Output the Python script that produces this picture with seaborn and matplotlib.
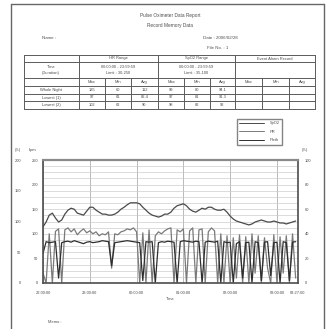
import numpy as np
import pandas as pd
import matplotlib
matplotlib.use("Agg")
import matplotlib.pyplot as plt
import seaborn as sns
from matplotlib.lines import Line2D

# header / table content
title_lines = ["Pulse Oximeter Data Report", "Record Memory Data"]
name_text = "Name :"
date_text = "Date : 2006/02/28"
file_text = "File No. : 1"
group_titles = ["HR Range", "SpO2 Range", "Event Alarm Record"]
group_ranges = [["00:00:00 - 23:59:59", "Limit : 30-250"],
                ["00:00:00 - 23:59:59", "Limit : 35-100"],
                ["", ""]]
stat_cols = ["Max", "Min", "Avg"]
row_labels = ["Whole Night", "Lowest (1)", "Lowest (2)"]
hr_stats = [[185, 60, 112], [97, 61, 82.4], [102, 62, 90]]
spo2_stats = [[99, 80, 94.1], [97, 81, 91.3], [98, 82, 92]]

# chart data, minutes after start (22:00:00)
minutes = list(range(0, 325, 4))
upper = [114, 124, 138, 142, 132, 124, 128, 140, 148, 152,
         150, 142, 140, 138, 146, 154, 154, 148, 144, 140,
         140, 138, 138, 140, 144, 150, 154, 159, 163, 163,
         163, 161, 154, 148, 142, 138, 136, 134, 136, 140,
         140, 144, 152, 157, 159, 161, 157, 150, 146, 144,
         148, 152, 150, 154, 154, 150, 148, 148, 150, 144,
         136, 130, 126, 124, 122, 120, 118, 120, 124, 126,
         128, 126, 124, 124, 126, 124, 122, 122, 120, 122,
         124, 126]
middle = [20, 0, 100, 0, 105, 110, 0, 108, 112, 104,
          110, 98, 105, 110, 102, 106, 100, 104, 96, 100,
          98, 104, 30, 100, 98, 104, 106, 110, 108, 112,
          104, 0, 102, 0, 108, 0, 96, 104, 100, 106,
          110, 112, 0, 108, 104, 110, 0, 106, 112, 0,
          108, 110, 0, 104, 112, 106, 0, 100, 0, 96,
          0, 92, 10, 98, 0, 94, 0, 100, 20, 96,
          0, 92, 30, 0, 98, 0, 94, 20, 96, 0,
          100, 10]
lower = [60, 84, 82, 83, 84, 10, 82, 84, 85, 83,
         86, 84, 82, 80, 83, 84, 82, 83, 84, 86,
         85, 84, 35, 82, 83, 84, 85, 86, 85, 84,
         83, 82, 5, 84, 83, 84, 0, 82, 84, 83,
         85, 84, 83, 0, 84, 86, 85, 84, 83, 85,
         84, 0, 83, 85, 84, 83, 85, 0, 84, 82,
         83, 0, 80, 84, 10, 82, 83, 0, 84, 82,
         5, 83, 84, 15, 82, 83, 0, 84, 82, 5,
         83, 84]
series_names = ["SpO2", "PR", "Pleth"]
series_colors = ["#4a4a4a", "#7a7a7a", "#2e2e2e"]

x_ticks = [0, 60, 120, 180, 240, 300, 327]
x_labels = ["22:00:00", "23:00:00", "00:00:00", "01:00:00",
            "02:00:00", "03:00:00", "03:27:00"]
left_inner_ticks = [0, 50, 100, 150, 200, 250]
left_outer_ticks = [0, 50, 100, 150, 200]
right_ticks = [0, 20, 40, 60, 80, 100]

df = pd.DataFrame({
    "minute": minutes * 3,
    "value": upper + middle + lower,
    "series": [series_names[0]] * len(upper) + [series_names[1]] * len(middle)
              + [series_names[2]] * len(lower),
})

sns.set_theme(style="white")
plt.rcParams["font.family"] = ["Liberation Sans", "DejaVu Sans"]
W, H = 328, 329
fig = plt.figure(figsize=(W / 100, H / 100), dpi=100)
tc = "#4d4d4d"

# page overlay in pixel coordinates
page = fig.add_axes([0, 0, 1, 1])
page.set_xlim(0, W)
page.set_ylim(H, 0)
page.axis("off")
page.plot([11, 11], [4, H], color="#666", lw=1.0)
page.plot([324, 324], [4, H], color="#666", lw=1.0)
page.plot([11, 324], [4, 4], color="#666", lw=1.0)

page.text(170, 15, title_lines[0], ha="center", va="center", fontsize=3.4, color=tc)
page.text(170, 25, title_lines[1], ha="center", va="center", fontsize=3.4, color=tc)
page.text(42, 38, name_text, ha="left", va="center", fontsize=3.2, color=tc)
page.text(203, 38, date_text, ha="left", va="center", fontsize=3.2, color=tc)
page.text(207, 48, file_text, ha="left", va="center", fontsize=3.2, color=tc)

col_edges = [24, 79, 105, 131, 158, 184, 210, 235, 262, 289, 315]
row_edges = [55, 62, 78, 86, 93.7, 101.3, 109]
lc = "#5a5a5a"
for y in row_edges:
    page.plot([col_edges[0], col_edges[-1]], [y, y], color=lc, lw=0.7)
for x in [24, 79, 158, 235, 315]:
    page.plot([x, x], [row_edges[0], row_edges[-1]], color=lc, lw=0.7)
for x in [105, 131, 184, 210, 262, 289]:
    page.plot([x, x], [row_edges[2], row_edges[-1]], color=lc, lw=0.7)

fs = 2.9
group_edges = [(79, 158), (158, 235), (235, 315)]
for (x0, x1), title, rng in zip(group_edges, group_titles, group_ranges):
    cx = (x0 + x1) / 2
    page.text(cx, 58.5, title, ha="center", va="center", fontsize=fs, color=tc)
    page.text(cx, 67, rng[0], ha="center", va="center", fontsize=fs, color=tc)
    page.text(cx, 73, rng[1], ha="center", va="center", fontsize=fs, color=tc)
page.text(51, 67, "Time", ha="center", va="center", fontsize=fs, color=tc)
page.text(51, 73, "(Duration)", ha="center", va="center", fontsize=fs, color=tc)

for i in range(9):
    cx = (col_edges[i + 1] + col_edges[i + 2]) / 2
    page.text(cx, 82, stat_cols[i % 3], ha="center", va="center", fontsize=fs, color=tc)
for r, label in enumerate(row_labels):
    cy = (row_edges[3 + r] + row_edges[4 + r]) / 2
    page.text(51, cy, label, ha="center", va="center", fontsize=fs, color=tc)
    for j in range(3):
        cx = (col_edges[1 + j] + col_edges[2 + j]) / 2
        page.text(cx, cy, f"{hr_stats[r][j]}", ha="center", va="center", fontsize=fs, color=tc)
        cx = (col_edges[4 + j] + col_edges[5 + j]) / 2
        page.text(cx, cy, f"{spo2_stats[r][j]}", ha="center", va="center", fontsize=fs, color=tc)

page.text(18, 150, "(%)", ha="center", va="center", fontsize=fs, color=tc)
page.text(33, 150, "bpm", ha="center", va="center", fontsize=fs, color=tc)
page.text(305, 150, "(%)", ha="center", va="center", fontsize=fs, color=tc)
page.text(48, 322, "Memo :", ha="left", va="center", fontsize=fs, color=tc)

# chart
ax = fig.add_axes([43 / W, 1 - 283 / H, 255 / W, 123 / H])
sns.lineplot(data=df, x="minute", y="value", hue="series", palette=series_colors,
             hue_order=series_names, ax=ax, linewidth=0.9, legend=False)
ax.set_xlim(0, 327)
ax.set_ylim(0, 250)
ax.set_yticks(left_inner_ticks)
ax.set_yticks(np.arange(0, 251, 12.5), minor=True)
ax.grid(which="both", axis="y", color="#c8c8c8", lw=0.45)
ax.set_xticks(x_ticks)
ax.set_xticklabels(x_labels)
ax.grid(which="major", axis="x", color="#a0a0a0", lw=0.5)
ax.tick_params(axis="both", which="both", length=0, labelsize=fs, labelcolor=tc)
ax.tick_params(axis="y", pad=3.5)
ax.tick_params(axis="x", pad=6)
ax.set_xlabel("Time", fontsize=fs, color=tc, labelpad=1.5)
ax.set_ylabel("")
for s in ax.spines.values():
    s.set_color("#4d4d4d")
    s.set_linewidth(1.2)
ax.spines["top"].set_color("#8a8a8a")
ax.spines["top"].set_linewidth(1.6)

outer = ax.twinx()
outer.set_ylim(0, 200)
outer.set_yticks(left_outer_ticks)
outer.yaxis.set_ticks_position("left")
outer.spines["left"].set_position(("outward", 12))
for s in outer.spines.values():
    s.set_visible(False)
outer.tick_params(length=0, labelsize=fs, labelcolor=tc, pad=3.5)
outer.grid(False)

right = ax.twinx()
right.set_ylim(0, 100)
right.set_yticks(right_ticks)
for s in right.spines.values():
    s.set_visible(False)
right.tick_params(length=0, labelsize=fs, labelcolor=tc, pad=5)
right.grid(False)

handles = [Line2D([], [], color=c, lw=0.7) for c in series_colors]
fig.legend(handles, series_names, loc="upper left",
           bbox_to_anchor=(235 / W, 1 - 117 / H), fontsize=fs, frameon=True,
           fancybox=False, edgecolor="#666", handlelength=6, borderpad=0.6,
           labelspacing=1.1, handletextpad=1.5, labelcolor=tc)

fig.savefig("out.png", dpi=100)
